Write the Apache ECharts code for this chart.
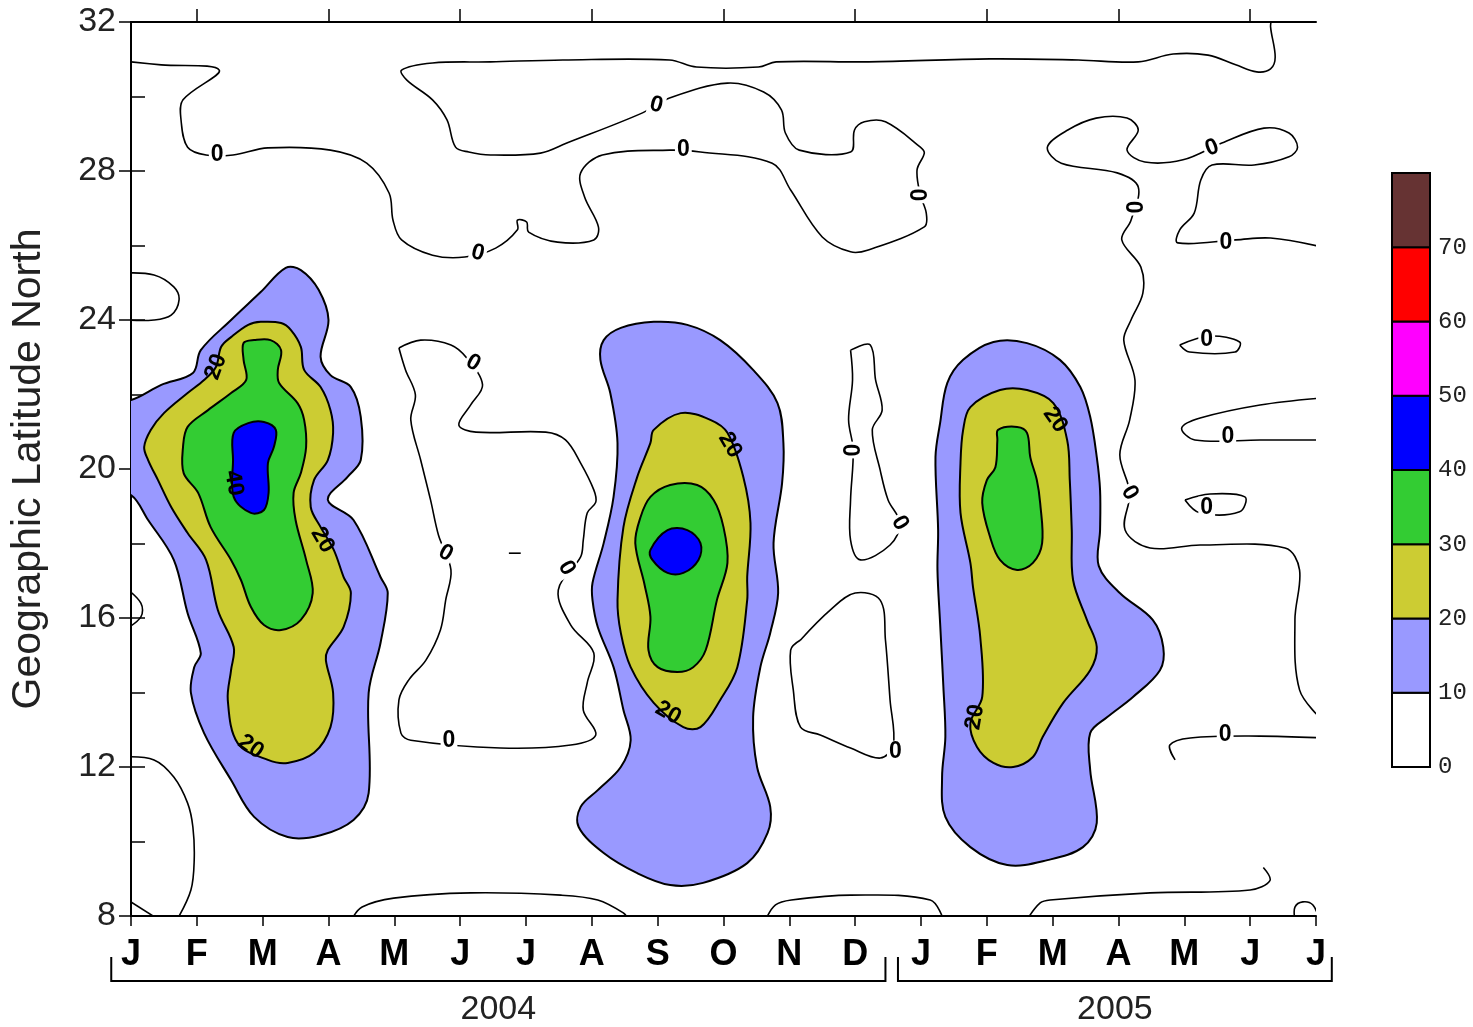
<!DOCTYPE html>
<html><head><meta charset="utf-8">
<script src="https://cdn.jsdelivr.net/npm/echarts@6/dist/echarts.min.js"></script>
<style>html,body{margin:0;padding:0;background:#fff}#c{width:1473px;height:1027px}</style>
</head><body><div id="c"></div>
<script>
// ---------- axes / legend ----------
const monthLabels = ['J','F','M','A','M','J','J','A','S','O','N','D','J','F','M','A','M','J','J'];
const topTicks = [1,3,5,7,9,11,13,15,17];
const levelColors = ['#ffffff','#9999ff','#cccc33','#33cc33','#0000ff','#ff00ff','#ff0000','#663333'];
const levelBounds = [0,10,20,30,40,50,60,70,80];
const yearLabels = ['2004','2005'];
const yearSpans = [[-0.3,11.46],[11.65,18.24]];

// ---------- filled contours: [months since 1 Jan 2004, latitude N] ----------
const c10_a = [[0,21.85],[0.46,22.26],[0.94,22.58],[1.06,23.19],[1.52,24.0],[1.97,24.75],[2.35,25.40],[2.58,25.34],[2.85,24.81],[3.0,24.0],[2.88,23.01],[3.03,22.52],[3.34,22.20],[3.49,21.40],[3.49,20.24],[3.29,19.79],[2.99,19.17],[3.38,18.63],[3.79,17.10],[3.90,16.67],[3.79,15.33],[3.61,13.99],[3.61,11.30],[3.38,10.58],[2.88,10.17],[2.38,10.12],[1.87,10.66],[1.52,11.65],[1.11,12.91],[0.91,13.99],[0.96,14.68],[1.06,15.06],[0.86,16.13],[0.65,17.56],[0.26,18.63],[0,19.30],[-0.3,19.3],[-0.3,21.85]];
const c20_a = [[1.78,23.87],[1.97,23.95],[2.28,23.92],[2.43,23.73],[2.58,23.28],[2.63,22.66],[2.88,22.20],[3.03,21.58],[3.07,20.97],[2.99,20.24],[2.78,19.70],[2.73,18.98],[2.88,18.44],[3.08,17.83],[3.23,17.10],[3.34,16.67],[3.23,15.76],[2.99,15.14],[2.96,14.87],[3.07,13.99],[3.03,13.07],[2.78,12.38],[2.38,12.11],[2.08,12.19],[1.62,12.64],[1.47,13.80],[1.52,14.60],[1.56,15.22],[1.32,16.21],[1.14,17.56],[0.86,18.28],[0.61,18.98],[0.41,19.70],[0.26,20.24],[0.20,20.59],[0.30,21.05],[0.50,21.50],[0.86,22.04],[1.11,22.39],[1.29,22.74],[1.37,23.28],[1.52,23.54]];
const c30_a = [[1.71,23.38],[1.87,23.46],[2.12,23.46],[2.28,23.19],[2.23,22.66],[2.25,22.31],[2.53,21.77],[2.63,21.32],[2.66,20.59],[2.58,19.89],[2.47,19.36],[2.50,18.63],[2.66,17.56],[2.76,16.67],[2.58,15.95],[2.28,15.68],[2.02,15.81],[1.82,16.30],[1.67,17.02],[1.52,17.56],[1.21,18.44],[1.02,19.36],[0.80,19.89],[0.79,20.59],[0.86,21.13],[1.17,21.58],[1.52,22.04],[1.75,22.39],[1.71,22.93]];
const c40_a = [[1.56,20.97],[1.78,21.23],[2.02,21.26],[2.20,21.05],[2.17,20.59],[2.08,20.16],[2.09,19.36],[2.02,18.90],[1.82,18.82],[1.56,19.25],[1.55,20.24]];

const c10_b = [[7.18,23.46],[7.44,23.79],[7.94,23.95],[8.45,23.87],[8.95,23.46],[9.45,22.66],[9.82,21.77],[9.91,20.70],[9.89,19.62],[9.76,18.01],[9.83,16.67],[9.71,15.60],[9.56,14.68],[9.45,13.34],[9.51,12.0],[9.71,10.93],[9.67,10.23],[9.36,9.42],[8.69,8.89],[8.19,8.83],[7.69,9.15],[7.18,9.69],[6.80,10.39],[6.83,10.93],[7.09,11.38],[7.44,12.0],[7.59,12.72],[7.48,13.53],[7.33,14.68],[7.09,15.76],[7.01,16.48],[7.01,16.94],[7.18,18.01],[7.33,19.25],[7.39,20.70],[7.28,22.04],[7.13,22.93]];
const c20_b = [[7.94,21.05],[8.35,21.50],[8.80,21.32],[9.06,20.97],[9.30,19.79],[9.41,18.55],[9.36,17.10],[9.36,16.48],[9.21,14.68],[8.95,13.80],[8.65,13.07],[8.39,13.07],[7.94,13.72],[7.59,14.68],[7.44,15.60],[7.39,16.48],[7.48,18.44],[7.69,19.79],[7.89,20.70]];
const c30_b = [[7.89,19.25],[8.19,19.57],[8.60,19.57],[8.85,19.17],[9.0,18.44],[9.06,17.48],[8.90,16.48],[8.73,15.14],[8.54,14.68],[8.30,14.55],[8.0,14.68],[7.86,15.14],[7.89,16.03],[7.80,16.90],[7.66,18.01],[7.74,18.71]];
const c40_b = [[8.15,18.36],[8.45,18.36],[8.65,18.01],[8.62,17.56],[8.39,17.21],[8.15,17.21],[7.92,17.56],[7.89,17.83]];

const c10_c = [[12.40,22.31],[12.64,22.93],[13.10,23.41],[13.61,23.38],[14.11,22.93],[14.42,22.20],[14.57,21.40],[14.67,20.32],[14.72,19.44],[14.72,18.36],[14.70,17.40],[15.02,16.67],[15.52,15.95],[15.68,15.22],[15.63,14.60],[15.22,13.88],[14.83,13.34],[14.57,12.91],[14.57,11.92],[14.67,10.50],[14.46,9.85],[13.92,9.50],[13.31,9.37],[12.75,9.85],[12.37,10.66],[12.32,11.73],[12.37,12.81],[12.34,14.15],[12.29,15.87],[12.25,17.29],[12.26,18.36],[12.22,20.32],[12.29,21.23]];
const c20_c = [[12.75,21.66],[13.20,22.12],[13.61,22.12],[14.01,21.77],[14.22,20.78],[14.26,19.70],[14.29,18.36],[14.31,17.02],[14.52,15.95],[14.67,15.22],[14.57,14.60],[14.16,13.72],[13.85,12.81],[13.70,12.27],[13.40,12.0],[13.10,12.11],[12.85,12.54],[12.75,13.18],[12.93,13.88],[12.90,15.49],[12.79,16.83],[12.75,17.48],[12.60,18.82],[12.60,20.16],[12.64,21.05]];
const c30_c = [[13.17,21.05],[13.46,21.13],[13.61,20.97],[13.66,20.32],[13.76,19.70],[13.81,19.09],[13.84,18.01],[13.70,17.48],[13.46,17.29],[13.20,17.56],[13.05,18.17],[12.93,19.09],[13.0,19.70],[13.13,20.05],[13.16,20.78]];

// ---------- zero contour lines ----------
const z_top = [[0,30.93],[0.46,30.85],[1.34,30.71],[0.79,29.91],[0.76,29.37],[0.86,28.64],[1.14,28.43],[1.55,28.43],[2.08,28.62],[3.03,28.56],[3.58,28.21],[3.92,27.41],[3.98,26.68],[4.11,26.15],[4.58,25.74],[5.07,25.69],[5.54,25.93],[5.87,26.42],[5.87,26.68],[6.01,26.63],[6.04,26.36],[6.48,26.09],[7.03,26.15],[7.10,26.50],[6.89,27.30],[6.83,27.95],[7.16,28.43],[8.18,28.56],[8.65,28.51],[9.74,28.21],[10.02,27.49],[10.50,26.23],[10.93,25.83],[11.20,25.88],[12.05,26.50],[12.08,26.87],[11.99,27.36],[11.94,28.03],[12.05,28.48],[11.99,28.64],[11.46,29.32],[11.14,29.32],[10.99,29.10],[10.93,28.51],[10.15,28.56],[9.94,29.02],[9.88,29.64],[9.61,30.12],[9.06,30.36],[8.18,29.96],[7.77,29.56],[6.62,28.75],[6.22,28.48],[5.46,28.43],[5.13,28.51],[4.93,28.64],[4.80,29.37],[4.58,29.91],[4.19,30.44],[4.11,30.71],[4.58,30.90],[5.46,30.93],[6.56,30.98],[8.18,30.98],[8.59,30.79],[9.53,30.79],[9.80,30.93],[11.20,30.93],[13.05,31.01],[14.39,30.98],[15.30,30.93],[15.83,31.14],[16.36,31.11],[16.78,30.85],[17.10,30.66],[17.31,30.74],[17.38,31.06],[17.31,31.87],[17.33,32.1]];
const z_right = [[18.1,25.96],[17.31,26.20],[16.78,26.15],[15.90,26.07],[15.93,26.42],[16.15,26.87],[16.25,27.76],[16.42,28.16],[17.06,28.16],[17.59,28.38],[17.72,28.64],[17.59,29.02],[17.21,29.15],[16.57,28.75],[15.98,28.30],[15.40,28.24],[15.13,28.56],[15.30,29.10],[15.13,29.42],[14.66,29.42],[14.23,29.10],[13.92,28.64],[14.13,28.21],[14.98,27.95],[15.30,27.57],[15.19,26.68],[15.05,26.15],[15.34,25.42],[15.37,24.72],[15.19,24.0],[15.08,23.46],[15.25,22.39],[15.17,21.32],[15.02,20.38],[15.17,19.36],[15.10,18.36],[15.48,17.88],[16.24,17.96],[17.53,17.88],[17.75,17.29],[17.68,15.95],[17.75,14.07],[18.1,13.26]];
const z_mid = [[4.07,23.25],[4.40,23.46],[4.86,23.33],[5.10,22.98],[5.34,22.26],[5.16,21.72],[4.98,21.18],[5.24,20.99],[6.30,20.99],[6.60,20.78],[6.83,20.16],[7.03,19.44],[7.06,19.11],[6.93,18.82],[6.87,18.09],[6.83,17.64],[6.49,16.75],[6.68,15.81],[7.03,15.06],[6.93,14.26],[6.87,13.53],[7.06,12.86],[6.68,12.59],[5.61,12.51],[4.25,12.72],[4.10,12.91],[4.07,13.80],[4.22,14.34],[4.48,14.87],[4.70,15.68],[4.78,16.48],[4.86,17.29],[4.67,18.23],[4.55,19.17],[4.40,20.24],[4.25,21.32],[4.32,21.99],[4.17,22.66],[4.07,23.25]];
const z_dec_up = [[10.93,23.19],[11.23,23.33],[11.31,22.39],[11.41,21.58],[11.26,21.05],[11.38,19.97],[11.50,19.17],[11.68,18.55],[11.53,17.96],[11.08,17.56],[10.93,18.09],[10.93,19.17],[10.97,20.51],[10.90,21.32],[10.96,22.39],[10.93,23.19]];
const z_dec_lo = [[10.17,15.41],[10.62,16.21],[11.0,16.67],[11.38,16.48],[11.46,15.41],[11.53,13.80],[11.58,12.59],[11.38,12.24],[10.93,12.51],[10.47,12.86],[10.17,13.07],[10.06,14.07],[10.02,15.14],[10.17,15.41]];
const z_left1 = [[-0.1,25.26],[0.35,25.21],[0.65,24.89],[0.73,24.54],[0.61,24.13],[0.35,24.0],[-0.1,24.0]];
const z_left2 = [[-0.1,16.83],[0.15,16.40],[0.15,16.03],[-0.1,15.68]];
const z_left3 = [[-0.1,12.27],[0.35,12.19],[0.65,11.73],[0.86,11.03],[0.94,10.39],[0.96,9.50],[0.91,8.70],[0.70,7.9]];
const z_corner = [[-0.1,8.49],[0.38,7.95]];
const z_bot1 = [[3.35,7.9],[3.51,8.24],[3.99,8.48],[5.16,8.62],[6.53,8.56],[7.09,8.43],[7.48,8.08],[7.56,7.9]];
const z_bot2 = [[9.64,7.9],[9.79,8.30],[10.03,8.43],[10.93,8.56],[12.14,8.43],[12.34,7.9]];
const z_bot3 = [[13.61,7.9],[13.81,8.35],[13.96,8.43],[15.48,8.62],[17.0,8.70],[17.30,8.95],[17.2,9.3]];
const z_bot4 = [[17.68,7.9],[17.68,8.24],[17.80,8.38],[17.95,8.30],[18.05,7.9]];
const z_r1 = [[15.93,23.33],[16.39,23.57],[16.84,23.41],[16.77,23.14],[16.08,23.14],[15.93,23.33]];
const z_r2 = [[18.1,21.91],[17.15,21.72],[16.24,21.37],[15.96,21.10],[16.16,20.78],[17.15,20.78],[18.1,20.78]];
const z_r3 = [[16.01,19.17],[16.39,19.33],[16.92,19.25],[16.84,18.85],[16.24,18.82],[16.01,19.17]];
const z_r4 = [[18.1,12.78],[17.15,12.83],[16.09,12.78],[15.78,12.59],[15.86,12.19]];
const z_dash = [[5.74,17.74],[5.92,17.74]];

// ---------- contour labels: [month, lat, text, rotation deg] ----------
const zeroLabels = [[1.31,28.43,'0',0],[5.27,25.80,'0',-15],[8.39,28.56,'0',0],[7.98,29.77,'0',-15],[11.99,27.36,'0',90],[16.42,28.62,'0',20],[16.63,26.07,'0',0],[15.27,27.03,'0',90],[5.20,22.85,'0',-30],[4.78,17.74,'0',-30],[6.62,17.34,'0',-60],[4.83,12.70,'0',0],[10.97,20.51,'0',90],[11.68,18.55,'0',-60],[11.61,12.40,'0',0],[16.34,23.46,'0',0],[16.66,20.86,'0',0],[16.34,18.95,'0',0],[15.17,19.36,'0',-60],[16.62,12.86,'0',0]];
const levelLabels = [[1.29,22.74,'20',70],[2.91,18.09,'20',-60],[1.82,12.54,'20',-35],[9.10,20.64,'20',-60],[8.16,13.45,'20',-30],[14.04,21.32,'20',-55],[12.82,13.34,'20',80],[1.56,19.62,'40',-80]];

const fills = [
  {lvl:1, pts:c10_a},{lvl:1, pts:c10_b},{lvl:1, pts:c10_c},
  {lvl:2, pts:c20_a},{lvl:2, pts:c20_b},{lvl:2, pts:c20_c},
  {lvl:3, pts:c30_a},{lvl:3, pts:c30_b},{lvl:3, pts:c30_c},
  {lvl:4, pts:c40_a},{lvl:4, pts:c40_b}
];
const lines = [z_top,z_right,z_mid,z_dec_up,z_dec_lo,z_left1,z_left2,z_left3,z_corner,z_bot1,z_bot2,z_bot3,z_bot4,z_r1,z_r2,z_r3,z_r4,z_dash];
const allLabels = zeroLabels.map(l=>l.concat([1])).concat(levelLabels.map(l=>l.concat([0])));

const chart = echarts.init(document.getElementById('c'));
const axisCol = '#000';
const sans = '"Liberation Sans", Arial, sans-serif';
const option = {
  animation:false,
  backgroundColor:'#fff',
  grid:[{left:130,right:157,top:22,bottom:111},{left:1392,width:38,top:173,height:594}],
  xAxis:[
    {gridIndex:0,type:'value',position:'bottom',min:0,max:18,interval:1,
     axisLine:{show:true,lineStyle:{color:axisCol,width:2}},
     axisTick:{show:true,length:10,lineStyle:{color:axisCol,width:1.5}},
     axisLabel:{margin:21,formatter:v=>monthLabels[v],fontFamily:sans,fontWeight:'bold',fontSize:36,color:'#000'},
     splitLine:{show:false}},
    {gridIndex:0,type:'value',position:'top',min:0,max:18,
     axisLine:{show:true,lineStyle:{color:axisCol,width:2}},
     axisTick:{show:true,length:13,customValues:topTicks,lineStyle:{color:axisCol,width:1.5}},
     axisLabel:{show:false},splitLine:{show:false}},
    {gridIndex:1,type:'value',min:0,max:1,show:false}
  ],
  yAxis:[
    {gridIndex:0,type:'value',position:'left',min:8,max:32,interval:4,
     name:'Geographic Latitude North',nameLocation:'middle',nameGap:82,
     nameTextStyle:{fontSize:41,fontFamily:sans,color:'#222'},
     axisLine:{show:true,lineStyle:{color:axisCol,width:2}},
     axisTick:{show:true,length:12,lineStyle:{color:axisCol,width:1.5}},
     axisLabel:{margin:15,fontFamily:sans,fontSize:34,color:'#222'},
     splitLine:{show:false}},
    {gridIndex:0,type:'value',position:'right',min:8,max:32,interval:2,
     axisLine:{show:true,lineStyle:{color:axisCol,width:2}},
     axisTick:{show:true,length:14,lineStyle:{color:axisCol,width:1.5}},
     axisLabel:{show:false},splitLine:{show:false}},
    {gridIndex:1,type:'value',position:'right',min:0,max:80,interval:10,
     axisLine:{show:false},axisTick:{show:false},splitLine:{show:false},
     axisLabel:{margin:8,formatter:v=>v===80?'':String(v),fontFamily:'"Liberation Mono", monospace',fontSize:24,color:'#222'}}
  ],
  series:[
    {type:'custom',xAxisIndex:0,yAxisIndex:0,clip:true,z:2,
     data:fills.map((f,i)=>[f.pts[0][0],f.pts[0][1],i]),
     renderItem:(p,api)=>{const f=fills[api.value(2)];
       return {type:'polygon',shape:{points:f.pts.map(q=>api.coord(q)),smooth:0.35},
               style:{fill:levelColors[f.lvl],stroke:'#000',lineWidth:2}};}},
    {type:'custom',xAxisIndex:0,yAxisIndex:0,clip:true,z:3,
     data:lines.map((l,i)=>[l[0][0],l[0][1],i]),
     renderItem:(p,api)=>{const l=lines[api.value(2)];
       return {type:'polyline',shape:{points:l.map(q=>api.coord(q)),smooth:0.35},
               style:{fill:null,stroke:'#000',lineWidth:1.6}};}},
    {type:'custom',xAxisIndex:0,yAxisIndex:0,clip:true,z:4,
     data:allLabels.map(l=>[l[0],l[1],l[3]]),
     renderItem:(p,api)=>{const l=allLabels[p.dataIndex];const c=api.coord([l[0],l[1]]);
       return {type:'text',x:c[0],y:c[1],rotation:l[3]*Math.PI/180,
               style:{text:l[2],font:'bold 23px "Liberation Sans", Arial, sans-serif',fill:'#000',align:'center',verticalAlign:'middle',
                      backgroundColor:l[4]?'#fff':null,padding:[0,2]}};}},
    {type:'custom',xAxisIndex:2,yAxisIndex:2,z:2,
     data:levelColors.map((c,i)=>[0,levelBounds[i],levelBounds[i+1],i]),
     renderItem:(p,api)=>{const a=api.coord([0,api.value(1)]),b=api.coord([1,api.value(2)]);
       return {type:'rect',shape:{x:a[0],y:b[1],width:b[0]-a[0],height:a[1]-b[1]},
               style:{fill:levelColors[api.value(3)],stroke:'#000',lineWidth:2}};}}
  ]
};
chart.setOption(option);

// year brackets under the month axis
const xPx = v => chart.convertToPixel({xAxisIndex:0}, v);
const axisY = chart.convertToPixel({yAxisIndex:0}, 8);
const gr = [];
yearSpans.forEach((s,i)=>{
  const x0=xPx(s[0]), x1=xPx(s[1]);
  gr.push({type:'polyline',shape:{points:[[x0,axisY+41],[x0,axisY+65],[x1,axisY+65],[x1,axisY+41]]},style:{stroke:'#000',lineWidth:2,fill:null}});
  gr.push({type:'text',x:(x0+x1)/2,y:axisY+94,style:{text:yearLabels[i],font:'34px "Liberation Sans", Arial, sans-serif',fill:'#222',align:'center',verticalAlign:'middle'}});
});
chart.setOption({graphic:gr});
</script></body></html>
